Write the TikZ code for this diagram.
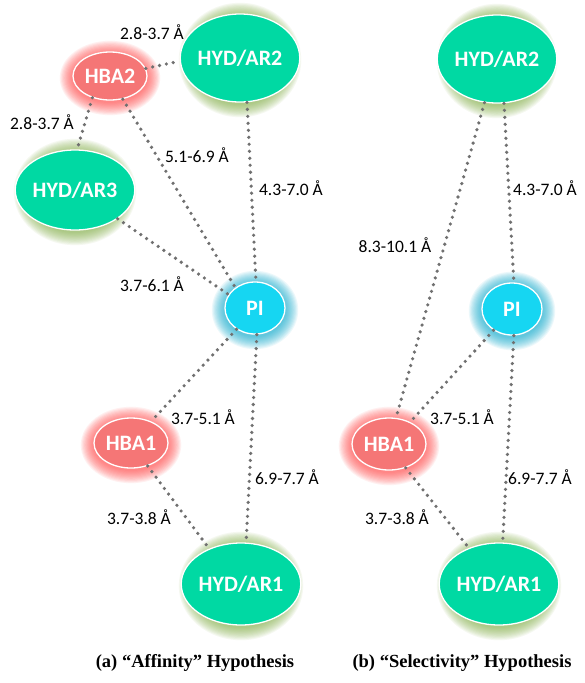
\documentclass[tikz,border=0pt]{standalone}
\usepackage{fontspec}
\setmainfont{Carlito}
\newfontfamily\capfont{Liberation Serif}
\usetikzlibrary{shapes.geometric}
\definecolor{grn}{RGB}{0,217,163}
\definecolor{grnglow}{RGB}{130,175,70}
\definecolor{hbared}{RGB}{245,118,118}
\definecolor{redglow}{RGB}{255,70,70}
\definecolor{picyan}{RGB}{22,214,242}
\definecolor{cyanglow}{RGB}{10,170,205}
\definecolor{dotgray}{RGB}{112,112,112}
\tikzset{
  dotline/.style={draw=dotgray, line width=3.6pt, line cap=round, dash pattern=on 0pt off 7pt},
  lab/.style={font=\fontsize{17.5}{20}\selectfont, inner sep=0pt, text=black},
  capt/.style={font=\capfont\bfseries\fontsize{18.5}{22}\selectfont, inner sep=0pt},
  blob/.style={ellipse, draw=white, line width=1.3pt, inner sep=0pt, text=white,
    font=\bfseries\fontsize{22}{26}\selectfont}
}
\newcommand\glownode[8]{%
  \foreach \i in {1,...,12}{\fill[#7, opacity=0.08] (#2,#3+2) ellipse [x radius={#4pt+1.1pt*\i}, y radius={#5pt+1.1pt*\i}];}
  \node[blob, fill=#6, minimum width=2*#4pt, minimum height=2*#5pt] (#1) at (#2,#3) {#8};
}
\begin{document}
\begin{tikzpicture}[x=1pt, y=-1pt]
\fill[white] (0,0) rectangle (585,683);
\useasboundingbox (0,0) rectangle (585,683);
% left panel
\glownode{a2}{240}{58}{48}{44}{grn}{grnglow}{HYD/AR2}
\glownode{b2}{110}{76}{37}{24}{hbared}{redglow}{HBA2}
\glownode{a3}{75}{190}{48}{40}{grn}{grnglow}{HYD/AR3}
\glownode{pl}{255}{308}{30}{26}{picyan}{cyanglow}{PI}
\glownode{b1}{131}{443}{37}{25}{hbared}{redglow}{HBA1}
\glownode{a1}{241}{584}{49}{41}{grn}{grnglow}{HYD/AR1}
% right panel
\glownode{a2r}{497}{59}{47}{44}{grn}{grnglow}{HYD/AR2}
\glownode{pr}{512}{309}{30}{26}{picyan}{cyanglow}{PI}
\glownode{b1r}{389}{444}{37}{26}{hbared}{redglow}{HBA1}
\glownode{a1r}{499}{584}{49}{41}{grn}{grnglow}{HYD/AR1}
% connectors left
\draw[dotline] (b2.12) -- (a2.183);
\draw[dotline] (b2.231) -- (a3.87);
\draw[dotline] (b2.-61) -- (pl.134);
\draw[dotline] (a2.-81) -- (pl.88);
\draw[dotline] (a3.-34) -- (pl.153);
\draw[dotline] (pl.229) -- (b1.47);
\draw[dotline] (pl.-86) -- (a1.83);
\draw[dotline] (b1.-54) -- (a1.132);
% connectors right
\draw[dotline] (a2r.254) -- (b1r.75);
\draw[dotline] (a2r.-81) -- (pr.86);
\draw[dotline] (pr.229) -- (b1r.46);
\draw[dotline] (pr.-86) -- (a1r.85);
\draw[dotline] (b1r.-55) -- (a1r.130);
% labels left
\node[lab] (l1) at (152,32) {2.8-3.7 Å};
\node[lab] (l2) at (42,122) {2.8-3.7 Å};
\node[lab] (l3) at (197,155) {5.1-6.9 Å};
\node[lab] (l4) at (291,188) {4.3-7.0 Å};
\node[lab] (l5) at (152,284) {3.7-6.1 Å};
\node[lab] (l6) at (203,417) {3.7-5.1 Å};
\node[lab] (l7) at (287,477) {6.9-7.7 Å};
\node[lab] (l8) at (139,517) {3.7-3.8 Å};
% labels right
\node[lab] (r1) at (395,245) {8.3-10.1 Å};
\node[lab] (r2) at (545,188) {4.3-7.0 Å};
\node[lab] (r3) at (462,417) {3.7-5.1 Å};
\node[lab] (r4) at (540,477) {6.9-7.7 Å};
\node[lab] (r5) at (397,517) {3.7-3.8 Å};
% captions
\node[capt] (ca) at (195,663) {(a) “Affinity” Hypothesis};
\node[capt] (cb) at (462,663) {(b) “Selectivity” Hypothesis};
\end{tikzpicture}
\end{document}
